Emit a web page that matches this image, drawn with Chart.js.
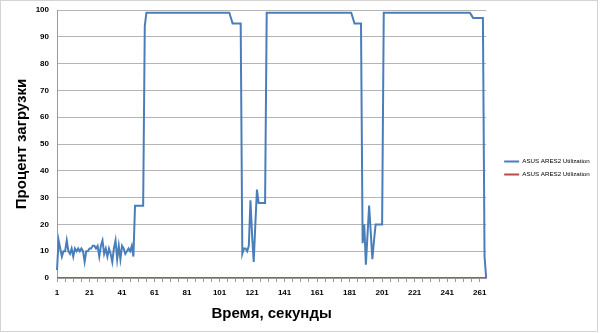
<!DOCTYPE html>
<html>
<head>
<meta charset="utf-8">
<script src="https://cdn.jsdelivr.net/npm/chart.js@4/dist/chart.umd.min.js"></script>
<style>
  html, body { margin: 0; padding: 0; background: #fff; }
  #frame { position: absolute; left: 0; top: 0; width: 596px; height: 330px; border: 1px solid #d4d4d4; }
  #chart { position: absolute; left: 0; top: 0; }
</style>
</head>
<body>
<div id="frame"></div>
<canvas id="chart" width="600" height="333"></canvas>
<script>
// seconds 1..265
const seconds = Array.from({ length: 265 }, (_, i) => String(i + 1));

// GPU load, %, one value per second
const ares2Load = [
  3, 14, 11, 8, 10, 10, 14, 10, 9, 11,
  8, 11, 10, 11, 10, 11, 10, 6, 10, 10,
  11, 11, 12, 12, 11, 12, 8, 12, 14, 9,
  11, 8, 11, 9, 6, 11, 14, 7, 12, 7,
  12, 11, 9, 10, 11, 10, 12, 8, 27, 27,
  27, 27, 27, 27, 94, 99, 99, 99, 99, 99,
  99, 99, 99, 99, 99, 99, 99, 99, 99, 99,
  99, 99, 99, 99, 99, 99, 99, 99, 99, 99,
  99, 99, 99, 99, 99, 99, 99, 99, 99, 99,
  99, 99, 99, 99, 99, 99, 99, 99, 99, 99,
  99, 99, 99, 99, 99, 99, 99, 97, 95, 95,
  95, 95, 95, 95, 9, 11, 11, 10, 12, 29,
  16, 6, 20, 33, 28, 28, 28, 28, 28, 99,
  99, 99, 99, 99, 99, 99, 99, 99, 99, 99,
  99, 99, 99, 99, 99, 99, 99, 99, 99, 99,
  99, 99, 99, 99, 99, 99, 99, 99, 99, 99,
  99, 99, 99, 99, 99, 99, 99, 99, 99, 99,
  99, 99, 99, 99, 99, 99, 99, 99, 99, 99,
  99, 99, 97, 95, 95, 95, 95, 95, 13, 20,
  5, 16, 27, 17, 7, 14, 20, 20, 20, 20,
  20, 99, 99, 99, 99, 99, 99, 99, 99, 99,
  99, 99, 99, 99, 99, 99, 99, 99, 99, 99,
  99, 99, 99, 99, 99, 99, 99, 99, 99, 99,
  99, 99, 99, 99, 99, 99, 99, 99, 99, 99,
  99, 99, 99, 99, 99, 99, 99, 99, 99, 99,
  99, 99, 99, 99, 99, 98, 97, 97, 97, 97,
  97, 97, 97, 8, 0
];

// second series stays at zero the whole run
const ares2Second = [
  0, 0, 0, 0, 0, 0, 0, 0, 0, 0,  0, 0, 0, 0, 0, 0, 0, 0, 0, 0,
  0, 0, 0, 0, 0, 0, 0, 0, 0, 0,  0, 0, 0, 0, 0, 0, 0, 0, 0, 0,
  0, 0, 0, 0, 0, 0, 0, 0, 0, 0,  0, 0, 0, 0, 0, 0, 0, 0, 0, 0,
  0, 0, 0, 0, 0, 0, 0, 0, 0, 0,  0, 0, 0, 0, 0, 0, 0, 0, 0, 0,
  0, 0, 0, 0, 0, 0, 0, 0, 0, 0,  0, 0, 0, 0, 0, 0, 0, 0, 0, 0,
  0, 0, 0, 0, 0, 0, 0, 0, 0, 0,  0, 0, 0, 0, 0, 0, 0, 0, 0, 0,
  0, 0, 0, 0, 0, 0, 0, 0, 0, 0,  0, 0, 0, 0, 0, 0, 0, 0, 0, 0,
  0, 0, 0, 0, 0, 0, 0, 0, 0, 0,  0, 0, 0, 0, 0, 0, 0, 0, 0, 0,
  0, 0, 0, 0, 0, 0, 0, 0, 0, 0,  0, 0, 0, 0, 0, 0, 0, 0, 0, 0,
  0, 0, 0, 0, 0, 0, 0, 0, 0, 0,  0, 0, 0, 0, 0, 0, 0, 0, 0, 0,
  0, 0, 0, 0, 0, 0, 0, 0, 0, 0,  0, 0, 0, 0, 0, 0, 0, 0, 0, 0,
  0, 0, 0, 0, 0, 0, 0, 0, 0, 0,  0, 0, 0, 0, 0, 0, 0, 0, 0, 0,
  0, 0, 0, 0, 0, 0, 0, 0, 0, 0,  0, 0, 0, 0, 0, 0, 0, 0, 0, 0,
  0, 0, 0, 0, 0
];

const seriesNames = ["ASUS ARES2 Utilization", "ASUS ARES2 Utilization"];

const font = "'Liberation Sans', Arial, sans-serif";

new Chart(document.getElementById("chart"), {
  type: "line",
  data: {
    labels: seconds,
    datasets: [{
      label: seriesNames[0],
      data: ares2Load,
      borderColor: "#4a7ebb",
      backgroundColor: "#4a7ebb",
      borderWidth: 2,
      pointRadius: 0,
      tension: 0
    }, {
      label: seriesNames[1],
      data: ares2Second,
      borderColor: "#be4b48",
      backgroundColor: "#be4b48",
      borderWidth: 2,
      pointRadius: 0,
      tension: 0
    }]
  },
  options: {
    responsive: false,
    animation: false,
    layout: { padding: { top: 10, left: 13, right: 6, bottom: 7 } },
    plugins: {
      tooltip: { enabled: false },
      legend: {
        position: "right",
        labels: {
          boxWidth: 15,
          boxHeight: 2,
          padding: 7,
          color: "#000",
          font: { family: font, size: 6.2 },
          generateLabels: chart =>
            Chart.defaults.plugins.legend.labels.generateLabels(chart).map(l => ({ ...l, lineWidth: 0 }))
        }
      }
    },
    scales: {
      x: {
        afterFit: s => { s.height = 48; },
        grid: {
          drawOnChartArea: false,
          tickLength: 4,
          color: ctx => (ctx.index % 5 === 0 ? "#9a9a9a" : "transparent")
        },
        border: { color: "#9a9a9a" },
        ticks: {
          autoSkip: false,
          maxRotation: 0,
          minRotation: 0,
          padding: 6,
          color: "#000",
          font: { family: font, size: 8, weight: "bold" },
          callback: function (v, i) { return i % 20 === 0 ? this.getLabelForValue(v) : ""; }
        },
        title: {
          display: true,
          text: "Время, секунды",
          color: "#000",
          padding: { top: 6, bottom: 3 },
          font: { family: font, size: 15, weight: "bold" }
        }
      },
      y: {
        min: 0,
        max: 100,
        afterFit: s => { s.width = 44; s.paddingTop = 0; s.paddingBottom = 0; },
        grid: { color: "#b4b4b4", drawTicks: false },
        border: { color: "#9a9a9a" },
        ticks: {
          stepSize: 10,
          padding: 8,
          color: "#000",
          font: { family: font, size: 8, weight: "bold" }
        },
        title: {
          display: true,
          text: "Процент загрузки",
          color: "#000",
          padding: { top: 0, bottom: 5 },
          font: { family: font, size: 15, weight: "bold" }
        }
      },
      gap: {
        position: "right",
        grid: { display: false },
        border: { display: false },
        ticks: { display: false },
        afterFit: s => { s.width = 11; s.paddingTop = 0; s.paddingBottom = 0; }
      }
    }
  }
});
</script>
</body>
</html>
